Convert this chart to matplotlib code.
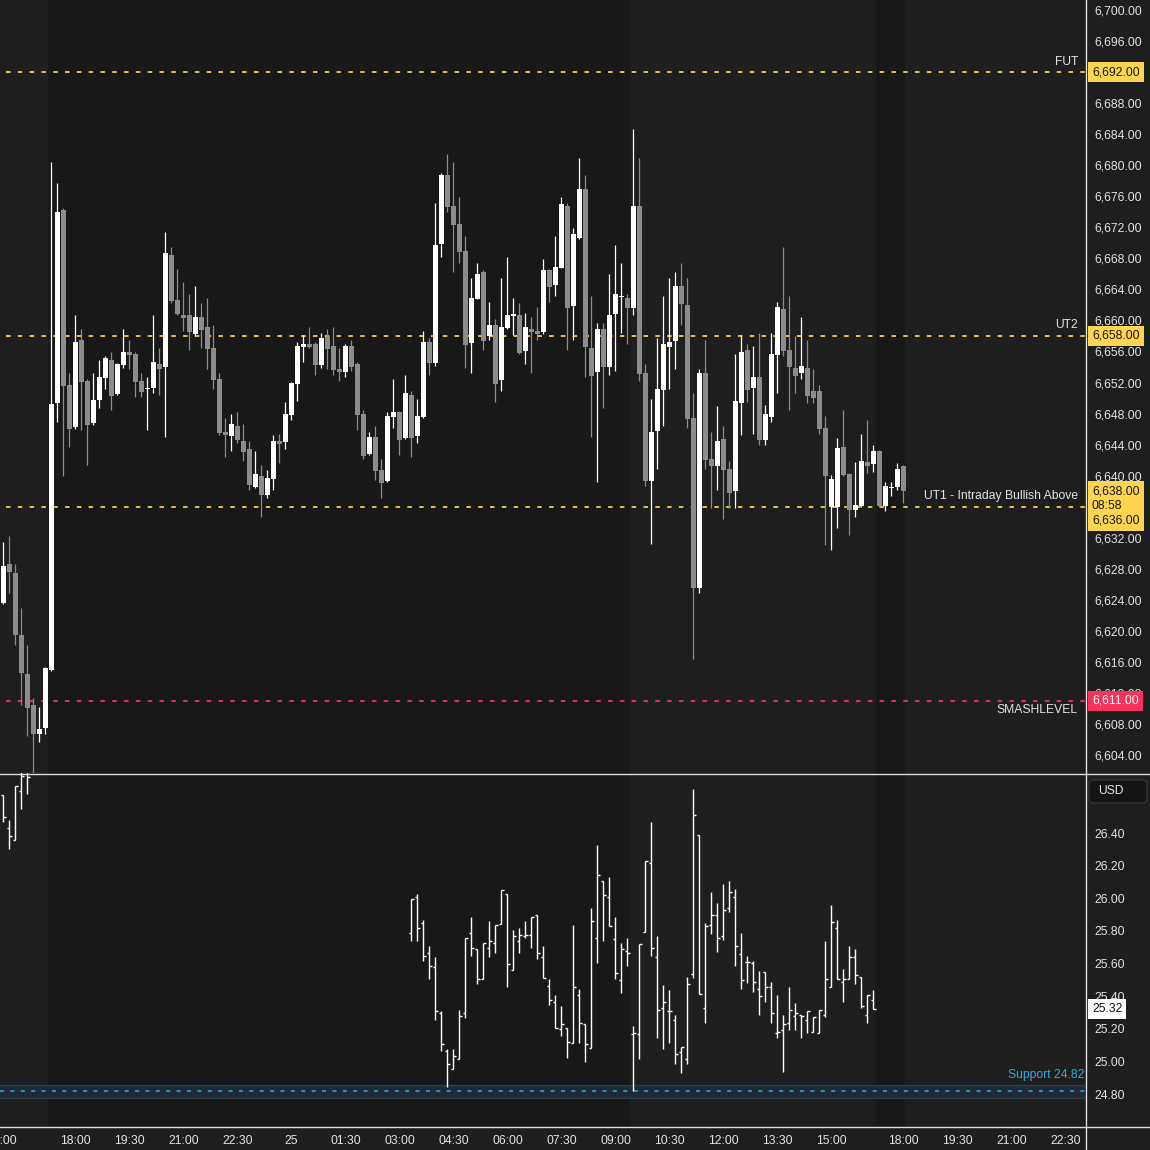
import matplotlib
matplotlib.use("Agg")
import matplotlib.pyplot as plt
import numpy as np
from matplotlib.transforms import blended_transform_factory
from matplotlib.lines import Line2D
from matplotlib.patches import FancyBboxPatch

plt.rcParams['font.family'] = ['Liberation Sans', 'DejaVu Sans']

# ---------------- data: ES 10-minute candles (bar index 0..150) ----------------
es_open = [6623.6, 6628.6, 6627.4, 6619.5, 6614.4, 6610.4, 6606.7, 6607.5, 6614.9, 6649.4,
           6674.2, 6651.7, 6646.3, 6657.5, 6652.2, 6646.8, 6649.7, 6652.6, 6654.9, 6650.5,
           6654.3, 6655.9, 6655.7, 6652.2, 6651.1, 6651.3, 6654.4, 6654.0, 6668.4, 6662.6,
           6660.7, 6660.7, 6658.2, 6660.4, 6659.1, 6656.4, 6652.4, 6645.6, 6645.1, 6646.4,
           6644.5, 6643.4, 6638.5, 6640.0, 6637.5, 6639.6, 6644.5, 6644.3, 6647.8, 6651.8,
           6656.6, 6657.0, 6657.0, 6654.3, 6657.9, 6656.7, 6653.7, 6653.4, 6656.7, 6654.4,
           6647.9, 6642.8, 6645.0, 6640.7, 6639.3, 6647.5, 6648.2, 6644.8, 6650.4, 6645.1,
           6647.5, 6657.2, 6654.5, 6669.8, 6678.7, 6674.7, 6672.4, 6668.9, 6657.1, 6662.8,
           6666.2, 6658.0, 6659.4, 6652.3, 6659.0, 6660.6, 6660.7, 6656.1, 6658.9, 6658.6,
           6658.5, 6666.5, 6664.6, 6666.8, 6674.7, 6661.9, 6670.6, 6676.9, 6656.4, 6653.4,
           6658.9, 6654.0, 6660.8, 6663.0, 6662.9, 6661.6, 6674.7, 6653.2, 6639.3, 6645.7,
           6651.0, 6656.6, 6657.3, 6664.4, 6662.0, 6647.4, 6625.5, 6653.2, 6642.1, 6641.2,
           6644.7, 6640.8, 6638.0, 6649.4, 6656.2, 6651.3, 6652.7, 6644.6, 6647.6, 6655.6,
           6661.5, 6656.2, 6653.9, 6653.2, 6653.9, 6650.9, 6650.9, 6646.1, 6635.9, 6635.9,
           6643.7, 6640.2, 6635.6, 6636.1, 6641.7, 6641.5, 6643.2, 6636.1, 6638.4, 6638.5,
           6641.3]
es_high = [6631.4, 6632.2, 6628.6, 6622.9, 6618.2, 6611.4, 6610.2, 6615.3, 6680.4, 6677.7,
           6674.5, 6653.2, 6660.7, 6658.9, 6652.5, 6653.2, 6654.9, 6655.4, 6655.9, 6654.5,
           6658.9, 6657.5, 6655.9, 6653.2, 6652.7, 6660.7, 6656.4, 6671.4, 6669.5, 6666.6,
           6664.9, 6663.4, 6664.4, 6662.2, 6662.9, 6659.4, 6653.2, 6647.4, 6647.9, 6648.2,
           6646.6, 6644.5, 6643.2, 6641.4, 6640.7, 6645.2, 6645.4, 6649.5, 6652.1, 6657.2,
           6658.1, 6659.1, 6657.2, 6658.4, 6658.9, 6659.1, 6656.4, 6657.0, 6657.5, 6654.6,
           6648.4, 6645.6, 6646.4, 6642.1, 6648.2, 6652.4, 6648.3, 6653.0, 6650.9, 6649.9,
           6658.6, 6657.7, 6675.1, 6679.0, 6681.4, 6680.4, 6675.9, 6670.9, 6665.5, 6667.4,
           6666.5, 6662.4, 6660.2, 6665.5, 6668.2, 6662.9, 6662.2, 6660.9, 6660.4, 6661.7,
           6667.9, 6666.6, 6670.9, 6675.9, 6675.1, 6671.9, 6680.9, 6678.7, 6663.1, 6659.7,
           6659.7, 6666.0, 6669.7, 6667.4, 6663.4, 6684.7, 6680.9, 6654.4, 6649.9, 6657.7,
           6663.1, 6665.5, 6666.2, 6667.4, 6665.5, 6650.6, 6653.7, 6657.5, 6645.6, 6649.0,
           6646.4, 6641.9, 6655.7, 6658.1, 6657.0, 6656.7, 6658.4, 6649.1, 6658.4, 6662.4,
           6669.4, 6663.1, 6658.0, 6660.4, 6657.5, 6653.7, 6651.7, 6647.7, 6640.1, 6644.8,
           6648.4, 6640.3, 6641.8, 6645.4, 6647.2, 6643.9, 6643.3, 6639.2, 6639.2, 6641.6,
           6641.4]
es_low = [6623.5, 6624.9, 6618.2, 6610.5, 6606.5, 6601.5, 6605.7, 6606.7, 6614.8, 6646.9,
          6640.0, 6643.7, 6646.0, 6645.9, 6641.4, 6646.5, 6648.7, 6651.2, 6648.5, 6650.4,
          6653.9, 6653.7, 6650.1, 6650.1, 6645.9, 6650.6, 6650.4, 6645.0, 6662.2, 6660.7,
          6658.6, 6656.2, 6658.0, 6656.4, 6653.7, 6651.2, 6645.2, 6642.4, 6643.2, 6644.2,
          6641.9, 6638.1, 6638.4, 6634.7, 6637.1, 6638.1, 6641.6, 6643.4, 6647.2, 6649.6,
          6654.6, 6656.4, 6653.0, 6653.9, 6653.7, 6653.0, 6652.2, 6652.7, 6653.5, 6645.9,
          6642.1, 6642.7, 6639.4, 6637.1, 6639.2, 6646.1, 6642.7, 6644.7, 6642.4, 6644.2,
          6647.4, 6653.0, 6654.1, 6668.2, 6674.0, 6666.2, 6667.4, 6653.9, 6653.2, 6662.7,
          6656.2, 6657.5, 6649.5, 6650.9, 6658.9, 6658.1, 6655.7, 6654.4, 6653.2, 6657.5,
          6658.3, 6662.4, 6663.1, 6666.7, 6656.2, 6657.5, 6670.5, 6652.7, 6645.0, 6639.2,
          6648.7, 6653.0, 6653.5, 6658.4, 6657.0, 6660.7, 6652.2, 6638.7, 6631.2, 6640.8,
          6646.4, 6651.2, 6653.7, 6659.4, 6646.1, 6616.4, 6624.9, 6640.8, 6635.8, 6638.1,
          6634.4, 6635.8, 6635.8, 6645.2, 6649.5, 6645.4, 6644.0, 6643.9, 6646.9, 6650.7,
          6655.4, 6648.5, 6650.7, 6652.5, 6649.3, 6649.3, 6645.4, 6631.0, 6630.4, 6633.2,
          6639.9, 6632.4, 6634.7, 6636.0, 6640.3, 6640.5, 6636.0, 6635.5, 6637.4, 6638.2,
          6636.5]
es_close = [6628.4, 6627.6, 6619.5, 6614.6, 6610.1, 6606.7, 6607.3, 6615.2, 6649.2, 6674.0,
            6651.5, 6646.0, 6657.2, 6652.1, 6646.5, 6649.7, 6652.7, 6655.2, 6650.3, 6654.4,
            6655.9, 6655.5, 6652.1, 6650.8, 6651.3, 6654.6, 6653.7, 6668.7, 6662.5, 6660.8,
            6660.3, 6658.5, 6660.4, 6658.8, 6656.3, 6652.3, 6645.5, 6645.2, 6646.6, 6644.6,
            6643.0, 6638.8, 6640.2, 6637.5, 6639.7, 6644.5, 6644.1, 6647.9, 6651.9, 6656.7,
            6657.0, 6656.6, 6654.3, 6657.7, 6656.3, 6653.6, 6653.3, 6656.7, 6654.0, 6647.8,
            6642.5, 6645.0, 6640.6, 6639.0, 6647.7, 6648.2, 6644.6, 6650.6, 6644.8, 6647.7,
            6657.2, 6654.5, 6669.7, 6678.7, 6674.6, 6672.3, 6668.8, 6656.8, 6662.9, 6666.0,
            6657.3, 6659.4, 6651.8, 6659.1, 6660.7, 6660.8, 6655.8, 6659.1, 6658.5, 6658.2,
            6666.5, 6664.3, 6666.9, 6675.0, 6661.6, 6671.1, 6676.9, 6656.6, 6652.8, 6658.9,
            6654.0, 6660.7, 6663.4, 6663.2, 6661.6, 6674.7, 6653.1, 6639.3, 6645.6, 6651.2,
            6657.0, 6657.2, 6664.4, 6662.1, 6647.3, 6625.5, 6653.2, 6642.0, 6641.2, 6644.5,
            6640.7, 6637.8, 6649.6, 6655.9, 6651.0, 6652.7, 6644.6, 6647.9, 6655.7, 6661.7,
            6656.1, 6654.0, 6652.9, 6654.1, 6650.3, 6650.0, 6646.0, 6639.9, 6639.6, 6643.5,
            6640.1, 6635.6, 6636.2, 6641.9, 6641.3, 6643.2, 6636.1, 6638.6, 6638.5, 6640.8,
            6638.0]

# ---------------- data: lower panel OHLC bars (two trading segments) ----------------
vix_start_a = 0
vix_open_a = [26.633, 26.429, 26.355, 26.655, 26.780]
vix_high_a = [26.633, 26.480, 26.688, 26.800, 26.850]
vix_low_a = [26.466, 26.304, 26.355, 26.545, 26.642]
vix_close_a = [26.496, 26.379, 26.688, 26.750, 26.741]

vix_start_b = 68
vix_open_b = [25.785, 26.006, 25.847, 25.663, 25.577, 25.299, 25.064, 24.952, 25.013, 25.297,
              25.785, 25.687, 25.503, 25.693, 25.726, 25.842, 26.026, 25.561, 25.736, 25.769,
              25.775, 25.895, 25.638, 25.465, 25.364, 25.201, 25.203, 25.111, 25.407, 25.228,
              25.081, 25.755, 26.104, 26.010, 25.748, 25.499, 25.679, 25.166, 25.166, 25.791,
              26.214, 25.638, 25.326, 25.309, 25.256, 25.056, 25.015, 25.534, 26.386, 25.326,
              25.834, 25.896, 25.769, 25.938, 26.006, 25.659, 25.612, 25.605, 25.442, 25.550,
              25.454, 25.172, 25.193, 25.234, 25.279, 25.285, 25.254, 25.179, 25.172, 25.283,
              25.458, 25.816, 25.489, 25.503, 25.642, 25.520, 25.283, 25.377]
vix_high_b = [25.994, 26.026, 25.867, 25.708, 25.640, 25.311, 25.079, 25.079, 25.315, 25.757,
              25.887, 25.687, 25.724, 25.863, 25.836, 26.051, 26.026, 25.806, 25.818, 25.861,
              25.887, 25.895, 25.708, 25.503, 25.407, 25.340, 25.203, 25.834, 25.444, 25.228,
              25.941, 26.324, 26.104, 26.128, 25.887, 25.724, 25.755, 25.217, 25.718, 26.228,
              26.467, 25.769, 25.469, 25.438, 25.285, 25.089, 25.518, 26.668, 26.386, 25.847,
              26.039, 25.971, 26.087, 26.106, 26.059, 25.785, 25.646, 25.616, 25.554, 25.550,
              25.489, 25.407, 25.285, 25.454, 25.360, 25.285, 25.311, 25.275, 25.315, 25.738,
              25.959, 25.867, 25.567, 25.708, 25.687, 25.520, 25.405, 25.438]
vix_low_b = [25.740, 25.740, 25.616, 25.505, 25.256, 25.066, 24.846, 24.952, 25.013, 25.268,
             25.648, 25.473, 25.503, 25.642, 25.663, 25.842, 25.458, 25.561, 25.667, 25.757,
             25.693, 25.630, 25.510, 25.348, 25.203, 25.158, 25.019, 25.111, 25.111, 24.999,
             25.081, 25.602, 25.740, 25.832, 25.507, 25.422, 25.587, 24.817, 25.013, 25.791,
             25.648, 25.146, 25.079, 25.111, 24.987, 24.927, 24.982, 25.510, 25.411, 25.238,
             25.779, 25.669, 25.742, 25.918, 25.587, 25.446, 25.479, 25.428, 25.287, 25.366,
             25.234, 25.142, 24.938, 25.193, 25.193, 25.142, 25.172, 25.179, 25.172, 25.275,
             25.458, 25.503, 25.366, 25.503, 25.475, 25.330, 25.238, 25.320]
vix_close_b = [25.994, 25.816, 25.646, 25.583, 25.309, 25.105, 24.982, 25.032, 25.277, 25.757,
               25.695, 25.503, 25.724, 25.736, 25.836, 26.051, 25.597, 25.769, 25.773, 25.775,
               25.887, 25.663, 25.510, 25.377, 25.203, 25.228, 25.117, 25.454, 25.234, 25.105,
               25.859, 26.145, 26.018, 25.832, 25.544, 25.689, 25.663, 25.172, 25.718, 26.228,
               25.693, 25.315, 25.364, 25.309, 25.046, 25.089, 25.475, 26.510, 25.411, 25.832,
               25.896, 25.755, 25.926, 26.036, 25.708, 25.499, 25.608, 25.487, 25.400, 25.454,
               25.295, 25.183, 25.230, 25.315, 25.295, 25.282, 25.311, 25.275, 25.315, 25.503,
               25.857, 25.503, 25.503, 25.642, 25.530, 25.340, 25.405, 25.320]

# ---------------- data: levels, ticks, labels ----------------
level_names = ['FUT', 'UT2', 'UT1 - Intraday Bullish Above', 'SMASHLEVEL']
level_values = [6692.0, 6658.0, 6636.0, 6611.0]
support_value = 24.82
support_band = (24.776, 24.856)
price_ticks = list(range(6604, 6701, 4))
vix_ticks = [24.8, 25.0, 25.2, 25.4, 25.6, 25.8, 26.0, 26.2, 26.4]
time_tick_pos = [-0.3, 12, 21, 30, 39, 48, 57, 66, 75, 84, 93, 102, 111, 120, 129, 138,
                 150, 159, 168, 177]
time_tick_labels = ['16:00', '18:00', '19:30', '21:00', '22:30', '25', '01:30', '03:00',
                    '04:30', '06:00', '07:30', '09:00', '10:30', '12:00', '13:30', '15:00',
                    '18:00', '19:30', '21:00', '22:30']
session_dark = [(7.42, 104.42), (145.4, 150.25)]
last_price = 6638.0
countdown = '08:58'
last_vix = 25.32

# ---------------- style ----------------
BG = '#1e1e1e'
DARK = '#181818'
UP = '#ffffff'
DN = '#8c8c8c'
YEL = '#ffd54f'
PINK = '#f7325c'
BLUE = '#34a8e0'
TXT = '#e2e3e6'
AXL = '#dcdcdc'
FS = 8.7

W, H = 1150, 1150
fig = plt.figure(figsize=(W / 100, H / 100), dpi=100, facecolor=BG)
ax1 = fig.add_axes([0, 1 - 773 / H, 1085 / W, 773 / H])
ax2 = fig.add_axes([0, 1 - 1126 / H, 1085 / W, (1126 - 773) / H])

XMIN, XMAX = -0.583, 180.25
for ax in (ax1, ax2):
    ax.set_facecolor(BG)
    ax.set_xlim(XMIN, XMAX)
    for s in ax.spines.values():
        s.set_visible(False)
    for a, b in session_dark:
        ax.axvspan(a, b, color=DARK, lw=0, zorder=0)

ax1.set_ylim(6601.68, 6701.29)
ax2.set_ylim(24.605, 26.768)

# ---- candles ----
o = np.array(es_open); h = np.array(es_high); l = np.array(es_low); c = np.array(es_close)
idx = np.arange(len(o))
cols = np.where(c >= o, UP, DN)
ax1.vlines(idx, l, h, colors=cols, lw=0.9, zorder=3)
ax1.bar(idx, np.maximum(np.abs(c - o), 0.14), bottom=np.minimum(o, c), width=0.83,
        color=cols, linewidth=0, zorder=4)

# ---- lower OHLC bars ----
for start, vo, vh, vl, vc in [(vix_start_a, vix_open_a, vix_high_a, vix_low_a, vix_close_a),
                              (vix_start_b, vix_open_b, vix_high_b, vix_low_b, vix_close_b)]:
    vx = np.arange(start, start + len(vo))
    ax2.vlines(vx, vl, vh, colors='white', lw=1.0, zorder=3)
    ax2.hlines(vo, vx - 0.38, vx, colors='white', lw=1.0, zorder=3)
    ax2.hlines(vc, vx, vx + 0.38, colors='white', lw=1.0, zorder=3)

# ---- levels ----
t1 = blended_transform_factory(ax1.transAxes, ax1.transData)
lev_cols = [YEL, YEL, YEL, PINK]
lev_off = [7.5, 8.0, 7.5, -6.8]
for name, val, col, off in zip(level_names, level_values, lev_cols, lev_off):
    ax1.hlines(val, 0.42, XMAX, colors=col, lw=1.25, linestyles=(0, (2.6, 4.2)), zorder=2)
    ax1.annotate(name, xy=(1078 / 1085, val), xycoords=t1, xytext=(0, off),
                 textcoords='offset points', ha='right', va='center', color=TXT,
                 fontsize=FS, zorder=6)

# ---- axis ticks ----
ax1.set_xticks([])
ax1.yaxis.tick_right()
ax1.set_yticks(price_ticks)
ax1.set_yticklabels([('' if v == 6636 else f'{v:,.2f}') for v in price_ticks])
ax1.tick_params(axis='y', length=0, pad=6.5, colors=TXT, labelsize=FS)

ax2.yaxis.tick_right()
ax2.set_yticks(vix_ticks)
ax2.set_yticklabels([f'{v:.2f}' for v in vix_ticks])
ax2.tick_params(axis='y', length=0, pad=6.5, colors=TXT, labelsize=FS)
ax2.set_xticks(time_tick_pos)
ax2.set_xticklabels(time_tick_labels)
ax2.tick_params(axis='x', length=0, pad=6.5, colors=TXT, labelsize=FS)

# ---- price-scale labels ----
xl = 1092 / 1085
box_kw = dict(boxstyle='square,pad=0.34', ec='none')
ax1.text(xl, 6692, '6,692.00', transform=t1, ha='left', va='center', fontsize=FS,
         color='#161616', bbox=dict(fc=YEL, **box_kw), zorder=10, clip_on=False)
ax1.text(xl, 6658, '6,658.00', transform=t1, ha='left', va='center', fontsize=FS,
         color='#161616', bbox=dict(fc=YEL, **box_kw), zorder=10, clip_on=False)
ax1.text(xl, (last_price + level_values[2]) / 2 - 0.9,
         f'{last_price:,.2f}\n{countdown}\n{level_values[2]:,.2f}', transform=t1,
         ha='left', va='center', fontsize=FS, linespacing=1.32, color='#161616',
         bbox=dict(fc=YEL, **box_kw), zorder=10, clip_on=False)
ax1.text(xl, 6611, '6,611.00', transform=t1, ha='left', va='center', fontsize=FS,
         color='white', bbox=dict(fc=PINK, **box_kw), zorder=10, clip_on=False)

t2 = blended_transform_factory(ax2.transAxes, ax2.transData)
ax2.text(xl, last_vix, f'{last_vix:.2f}', transform=t2, ha='left', va='center', fontsize=FS,
         color='#111111', bbox=dict(fc='white', **box_kw), zorder=10, clip_on=False)

# ---- support zone ----
ax2.axhspan(support_band[0], support_band[1], color='#1f2c37', lw=0, zorder=1)
ax2.hlines(list(support_band), XMIN, XMAX, colors='#2d3f4f', lw=0.8, zorder=1.5)
ax2.hlines(support_value, XMIN, XMAX, colors=BLUE, lw=1.1, linestyles=(0, (2.6, 4.2)), zorder=2)
ax2.annotate(f'Support {support_value:.2f}', xy=(1084 / 1085, support_value), xycoords=t2,
             xytext=(0, 11.5), textcoords='offset points', ha='right', va='center',
             color=BLUE, fontsize=FS)

# ---- USD badge ----
fig.patches.append(FancyBboxPatch((1089 / W, 1 - 803 / H), 58 / W, 23 / H,
                                  boxstyle='round,pad=0,rounding_size=0.004',
                                  transform=fig.transFigure, fc='#141414', ec='#3a3a3a',
                                  lw=0.8))
fig.text(1098 / W, 1 - 791.5 / H, 'USD', ha='left', va='center', color=TXT, fontsize=FS)

# ---- frame lines ----
fig.add_artist(Line2D([0, 1], [1 - 773.5 / H] * 2, transform=fig.transFigure, color=AXL, lw=1.0))
fig.add_artist(Line2D([0, 1], [1 - 1126.5 / H] * 2, transform=fig.transFigure, color=AXL, lw=1.0))
fig.add_artist(Line2D([1085.5 / W] * 2, [0, 1], transform=fig.transFigure, color=AXL, lw=1.0))

fig.savefig('out.png', dpi=100, facecolor=BG)
